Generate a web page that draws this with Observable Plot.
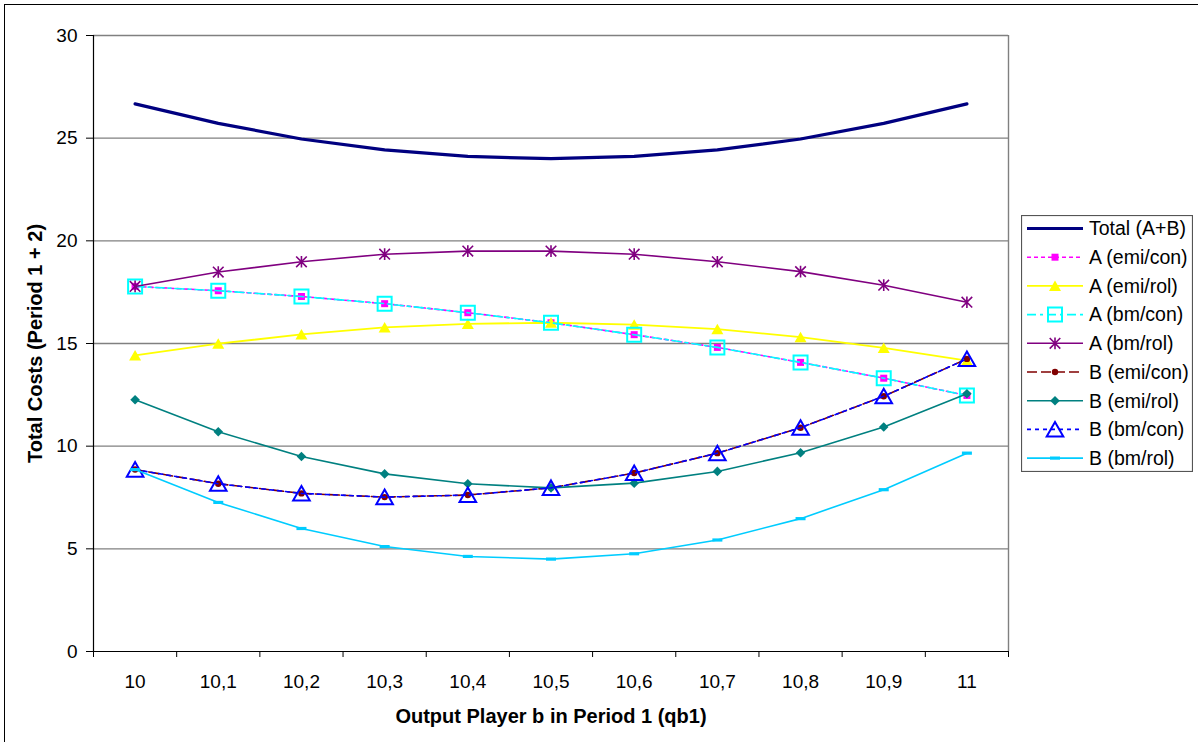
<!DOCTYPE html>
<html>
<head>
<meta charset="utf-8">
<script src="https://cdn.jsdelivr.net/npm/d3@7"></script>
<script src="https://cdn.jsdelivr.net/npm/@observablehq/plot@0.6"></script>
<style>
  body { margin: 0; background: #fff; font-family: "Liberation Sans", Arial, sans-serif; }
  #wrap { position: relative; width: 1198px; height: 742px; overflow: hidden; background: #fff; }
  #border { position: absolute; left: 4px; top: 4px; width: 1400px; height: 1000px; border: 1px solid #000; pointer-events: none; }
  #legend { position: absolute; left: 1021px; top: 215px; }
</style>
</head>
<body>
<div id="wrap">
  <div id="chart"></div>
  <div id="border"></div>
  <svg id="legend" width="172" height="257"></svg>
</div>
<script>
// ---- data ----
const categories = ["10", "10,1", "10,2", "10,3", "10,4", "10,5", "10,6", "10,7", "10,8", "10,9", "11"];
const yTicks = [0, 5, 10, 15, 20, 25, 30];
const seriesNames = ["Total (A+B)", "A (emi/con)", "A (emi/rol)", "A (bm/con)", "A (bm/rol)", "B (emi/con)", "B (emi/rol)", "B (bm/con)", "B (bm/rol)"];
const total   = [26.67, 25.72, 24.96, 24.43, 24.11, 24.00, 24.11, 24.43, 24.96, 25.72, 26.67];
const aEmiCon = [17.78, 17.57, 17.29, 16.94, 16.50, 16.01, 15.43, 14.81, 14.08, 13.31, 12.47];
const aEmiRol = [14.42, 14.99, 15.44, 15.79, 15.96, 16.01, 15.92, 15.70, 15.31, 14.79, 14.17];
const aBmCon  = [17.78, 17.57, 17.29, 16.94, 16.50, 16.01, 15.43, 14.81, 14.08, 13.31, 12.47];
const aBmRol  = [17.78, 18.48, 18.98, 19.35, 19.50, 19.50, 19.35, 18.98, 18.50, 17.84, 17.01];
const bEmiCon = [8.86, 8.17, 7.70, 7.52, 7.62, 7.97, 8.69, 9.66, 10.90, 12.43, 14.25];
const bEmiRol = [12.26, 10.70, 9.50, 8.65, 8.17, 7.97, 8.20, 8.77, 9.68, 10.93, 12.55];
const bBmCon  = [8.86, 8.17, 7.70, 7.52, 7.62, 7.97, 8.69, 9.66, 10.90, 12.43, 14.25];
const bBmRol  = [8.86, 7.26, 5.99, 5.11, 4.63, 4.50, 4.76, 5.43, 6.47, 7.88, 9.66];
const seriesValues = [total, aEmiCon, aEmiRol, aBmCon, aBmRol, bEmiCon, bEmiRol, bBmCon, bBmRol];

// ---- custom marker shapes ----
const rad = size => Math.sqrt(size / Math.PI);
const sqSym = { draw(c, s) { const r = rad(s); c.rect(-r, -r, 2 * r, 2 * r); } };
const triSym = { draw(c, s) { const r = rad(s); c.moveTo(0, -0.9 * r); c.lineTo(r, 0.85 * r); c.lineTo(-r, 0.85 * r); c.closePath(); } };
const starSym = { draw(c, s) { const r = rad(s); c.moveTo(-r, -r); c.lineTo(r, r); c.moveTo(r, -r); c.lineTo(-r, r); c.moveTo(0, -1.1 * r); c.lineTo(0, 1.1 * r); } };
const diaSym = { draw(c, s) { const r = rad(s); c.moveTo(0, -r); c.lineTo(r, 0); c.lineTo(0, r); c.lineTo(-r, 0); c.closePath(); } };
const circSym = { draw(c, s) { const r = rad(s); c.moveTo(r, 0); c.arc(0, 0, r, 0, 2 * Math.PI); } };
const dashSym = { draw(c, s) { const r = rad(s); c.rect(-r, -1.6, 2 * r, 3.2); } };

// ---- styles per series ----
const styles = [
  { stroke: "#000080", width: 3.2, dash: null, sym: null },
  { stroke: "#FF00FF", width: 1.6, dash: "4,3", sym: sqSym, r: 3.5, fill: "#FF00FF", mstroke: "none", msw: 0 },
  { stroke: "#FFFF00", width: 1.8, dash: null, sym: triSym, r: 6, fill: "#FFFF00", mstroke: "none", msw: 0 },
  { stroke: "#00FFFF", width: 1.6, dash: "9,4,3,4", sym: sqSym, r: 7, fill: "none", mstroke: "#00FFFF", msw: 2 },
  { stroke: "#800080", width: 1.6, dash: null, sym: starSym, r: 5.3, fill: "none", mstroke: "#800080", msw: 1.6 },
  { stroke: "#800000", width: 1.6, dash: "10,4", sym: circSym, r: 3.2, fill: "#800000", mstroke: "none", msw: 0 },
  { stroke: "#008080", width: 1.6, dash: null, sym: diaSym, r: 4.8, fill: "#008080", mstroke: "none", msw: 0 },
  { stroke: "#0000FF", width: 1.6, dash: "4,4", sym: triSym, r: 8.3, fill: "none", mstroke: "#0000FF", msw: 2 },
  { stroke: "#00CCFF", width: 1.6, dash: null, sym: dashSym, r: 5, fill: "#00CCFF", mstroke: "none", msw: 0 }
];

const idx = categories.map((_, i) => i);
const bounds = d3.range(categories.length + 1).map(i => i - 0.5);

const seriesMarks = [];
seriesNames.forEach((name, k) => {
  const st = styles[k];
  const rows = seriesValues[k].map((v, i) => ({ i, v }));
  seriesMarks.push(Plot.line(rows, { x: "i", y: "v", stroke: st.stroke, strokeWidth: st.width, strokeDasharray: st.dash || undefined }));
  if (st.sym) {
    seriesMarks.push(Plot.dot(rows, { x: "i", y: "v", symbol: st.sym, r: st.r, fill: st.fill, stroke: st.mstroke, strokeWidth: st.msw }));
  }
});

const chart = Plot.plot({
  width: 1198,
  height: 742,
  marginLeft: 93,
  marginTop: 35,
  marginRight: 190,
  marginBottom: 91,
  style: { fontFamily: "'Liberation Sans', Arial, sans-serif", background: "#fff", color: "#000" },
  x: { type: "linear", domain: [bounds[0], bounds[bounds.length - 1]] },
  y: { domain: [yTicks[0], yTicks[yTicks.length - 1]] },
  marks: [
    Plot.ruleY(yTicks.slice(1), { stroke: "#808080", strokeWidth: 1.4 }),
    Plot.ruleX([bounds[bounds.length - 1]], { stroke: "#808080", strokeWidth: 1.4 }),
    Plot.ruleY([yTicks[0]], { stroke: "#000", strokeWidth: 1.2 }),
    Plot.ruleX([bounds[0]], { stroke: "#000", strokeWidth: 1.2 }),
    Plot.axisY({ ticks: yTicks, tickSize: 7, tickPadding: 9, fontSize: 19, label: null }),
    Plot.axisX({ ticks: idx, tickFormat: i => categories[i], tickSize: 0, tickPadding: 23, fontSize: 19, label: null }),
    Plot.axisX({ ticks: bounds, tickFormat: () => "", tickSize: 6, label: null }),
    Plot.text(["Total Costs (Period 1 + 2)"], { frameAnchor: "left", rotate: -90, dx: -58, fontSize: 20, fontWeight: "bold", textAnchor: "middle", lineAnchor: "middle" }),
    Plot.text(["Output Player b in Period 1 (qb1)"], { frameAnchor: "bottom", dy: 65, fontSize: 20, fontWeight: "bold", textAnchor: "middle", lineAnchor: "middle" }),
    ...seriesMarks
  ]
});
document.getElementById("chart").appendChild(chart);

// ---- legend ----
const lg = d3.select("#legend");
lg.append("rect").attr("x", 0.5).attr("y", 0.5).attr("width", 171).attr("height", 256)
  .attr("fill", "#fff").attr("stroke", "#555").attr("stroke-width", 1.2);
seriesNames.forEach((name, k) => {
  const st = styles[k];
  const y = 13.5 + k * 28.7;
  const g = lg.append("g").attr("transform", `translate(0,${y})`);
  g.append("line").attr("x1", 6).attr("x2", 62).attr("y1", 0).attr("y2", 0)
    .attr("stroke", st.stroke).attr("stroke-width", st.width)
    .attr("stroke-dasharray", st.dash || null);
  if (st.sym) {
    g.append("path").attr("transform", "translate(34,0)")
      .attr("d", d3.symbol().type(st.sym).size(Math.PI * st.r * st.r)())
      .attr("fill", st.fill).attr("stroke", st.mstroke).attr("stroke-width", st.msw);
  }
  g.append("text").attr("x", 68).attr("y", 0).attr("dy", "0.35em")
    .attr("font-family", "'Liberation Sans', Arial, sans-serif").attr("font-size", 19.5)
    .attr("fill", "#000").text(name);
});
</script>
</body>
</html>
